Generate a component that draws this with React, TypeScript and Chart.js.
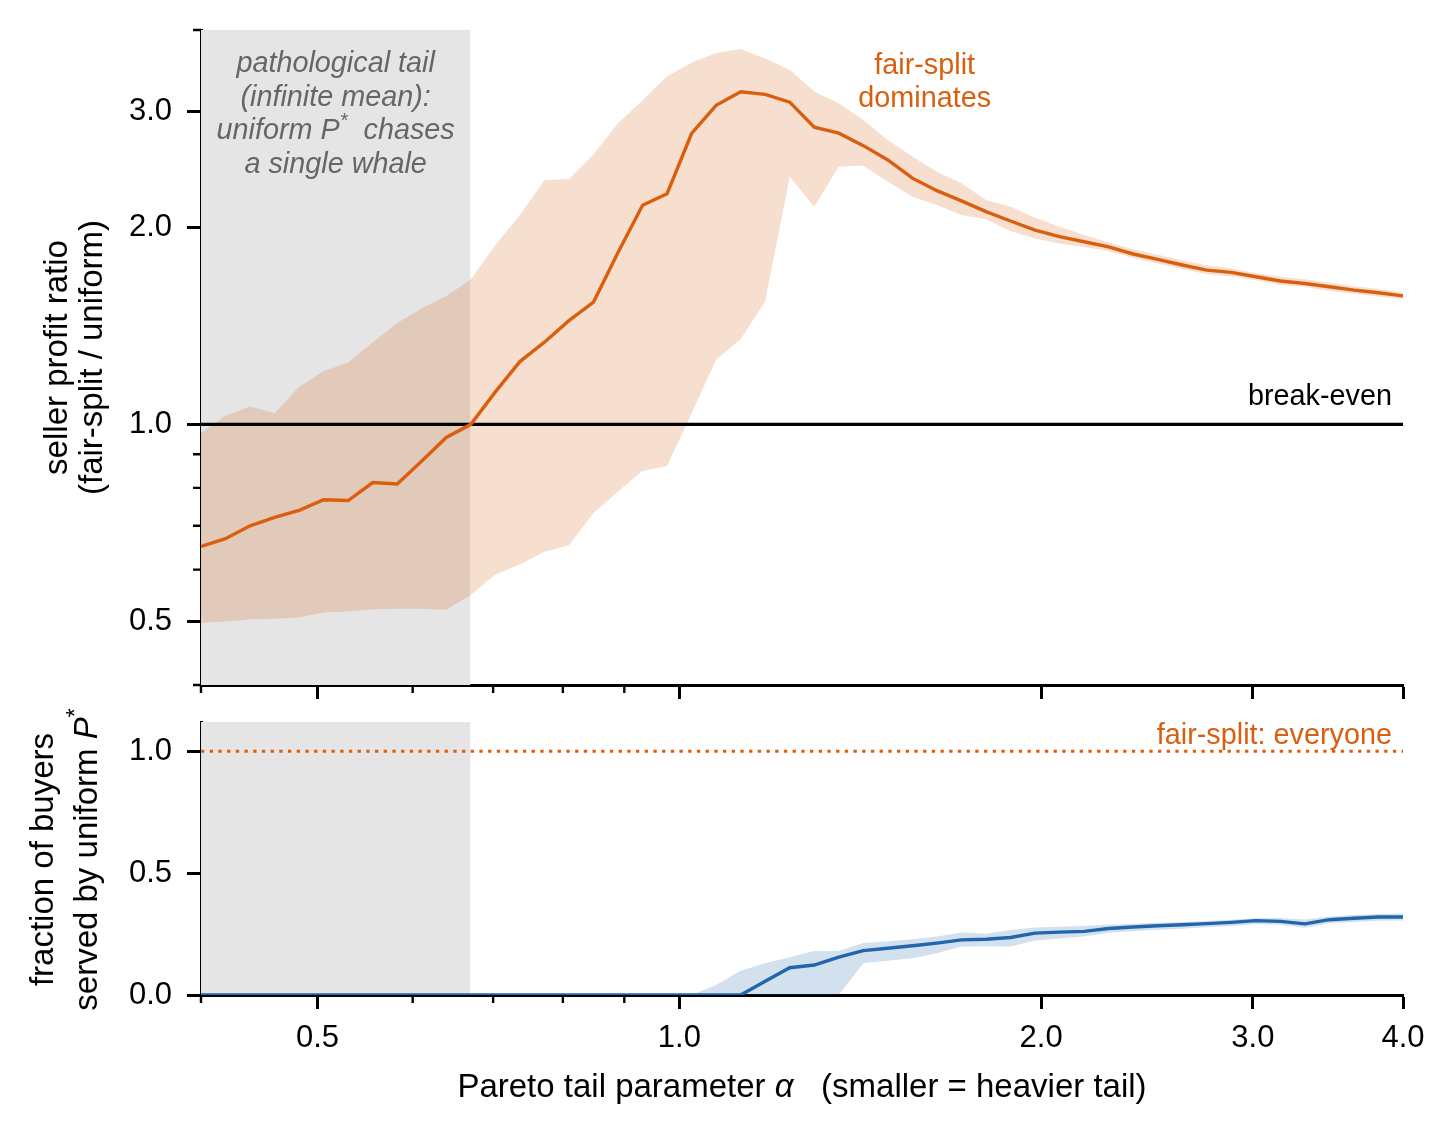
import React, { useEffect, useRef } from "react";
import { Chart, registerables } from "chart.js";

Chart.register(...registerables);

// ---------------- data ----------------
const ALPHA = [
  0.4, 0.4192, 0.4394, 0.4606, 0.4827, 0.5059, 0.5303, 0.5558, 0.5825, 0.6106,
  0.6399, 0.6707, 0.703, 0.7368, 0.7723, 0.8094, 0.8484, 0.8892, 0.932, 0.9768,
  1.0238, 1.0731, 1.1247, 1.1788, 1.2355, 1.295, 1.3573, 1.4226, 1.491, 1.5628,
  1.638, 1.7168, 1.7994, 1.8859, 1.9767, 2.0718, 2.1715, 2.2759, 2.3854, 2.5002,
  2.6205, 2.7466, 2.8787, 3.0172, 3.1624, 3.3146, 3.474, 3.6412, 3.8164, 4.0,
];

const RATIO_MEAN = [
  0.651, 0.669, 0.7, 0.721, 0.739, 0.767, 0.765, 0.815, 0.811, 0.879,
  0.955, 1.0, 1.121, 1.247, 1.335, 1.44, 1.537, 1.83, 2.16, 2.25,
  2.78, 3.07, 3.22, 3.19, 3.104, 2.842, 2.783, 2.664, 2.533, 2.376,
  2.274, 2.194, 2.112, 2.044, 1.98, 1.934, 1.9, 1.866, 1.82, 1.786,
  1.751, 1.72, 1.706, 1.68, 1.655, 1.641, 1.622, 1.603, 1.588, 1.571,
];

const RATIO_HI = [
  0.97, 1.031, 1.065, 1.04, 1.141, 1.205, 1.243, 1.335, 1.428, 1.504,
  1.57, 1.664, 1.878, 2.087, 2.359, 2.37, 2.584, 2.883, 3.125, 3.4,
  3.565, 3.69, 3.74, 3.62, 3.477, 3.222, 3.093, 2.916, 2.718, 2.563,
  2.431, 2.334, 2.2, 2.149, 2.068, 2.003, 1.945, 1.895, 1.85, 1.815,
  1.78, 1.75, 1.73, 1.703, 1.68, 1.665, 1.645, 1.625, 1.61, 1.59,
];

const RATIO_LO = [
  0.498, 0.5, 0.504, 0.505, 0.507, 0.516, 0.518, 0.522, 0.523, 0.523,
  0.521, 0.549, 0.59, 0.611, 0.639, 0.654, 0.732, 0.79, 0.849, 0.864,
  1.039, 1.256, 1.349, 1.542, 2.388, 2.149, 2.475, 2.483, 2.347, 2.226,
  2.162, 2.087, 2.056, 1.973, 1.922, 1.889, 1.865, 1.84, 1.795, 1.76,
  1.727, 1.695, 1.683, 1.66, 1.632, 1.62, 1.6, 1.582, 1.567, 1.552,
];

const SERVED_MEAN = [
  0, 0, 0, 0, 0, 0, 0, 0, 0, 0,
  0, 0, 0, 0, 0, 0, 0, 0, 0, 0,
  0, 0, 0, 0.056, 0.112, 0.123, 0.155, 0.182, 0.192, 0.202,
  0.213, 0.226, 0.229, 0.236, 0.254, 0.258, 0.261, 0.273, 0.279, 0.284,
  0.288, 0.293, 0.298, 0.305, 0.302, 0.292, 0.309, 0.315, 0.32, 0.32,
];

const SERVED_HI = [
  0, 0, 0, 0, 0, 0, 0, 0, 0, 0,
  0, 0, 0, 0, 0, 0, 0, 0, 0, 0,
  0, 0.041, 0.1, 0.13, 0.155, 0.181, 0.181, 0.213, 0.219, 0.229,
  0.24, 0.256, 0.251, 0.267, 0.277, 0.28, 0.283, 0.288, 0.292, 0.296,
  0.3, 0.304, 0.309, 0.315, 0.316, 0.31, 0.322, 0.328, 0.332, 0.334,
];

const SERVED_LO = [
  0, 0, 0, 0, 0, 0, 0, 0, 0, 0,
  0, 0, 0, 0, 0, 0, 0, 0, 0, 0,
  0, 0, 0, 0, 0, 0, 0, 0.13, 0.141, 0.151,
  0.171, 0.199, 0.2, 0.199, 0.224, 0.232, 0.24, 0.255, 0.262, 0.268,
  0.272, 0.278, 0.283, 0.29, 0.288, 0.276, 0.294, 0.3, 0.305, 0.306,
];

const X_MIN = 0.4;
const X_MAX = 4.0;
const X_TICKS = [0.5, 1, 2, 3, 4];
const X_MINOR = [0.4, 0.6, 0.7, 0.8, 0.9];
const Y_TOP_MIN = 0.4;
const Y_TOP_MAX = 4.0;
const Y_TOP_TICKS = [0.5, 1, 2, 3];
const Y_TOP_MINOR = [0.4, 0.6, 0.7, 0.8, 0.9, 4];
const Y_BOT_MIN = 0;
const Y_BOT_MAX = 1.12;
const Y_BOT_TICKS = [0, 0.5, 1];
const SHADE_END = 0.67;
const BREAK_EVEN = 1;
const FAIR_SPLIT_SERVED = 1;
const FAIR_SPLIT_LABEL_X = 1.6;

// ---------------- style ----------------
const FAMILY = "'Liberation Sans', Arial, sans-serif";
const ORANGE = "#d95f0e";
const ORANGE_BAND = "rgba(217,95,14,0.2)";
const BLUE = "#2166ac";
const BLUE_BAND = "rgba(33,102,172,0.2)";
const SHADE = "#e5e5e5";
const GREY_TEXT = "#666666";
const TICK_FONT = 31;
const LABEL_FONT = 33;
const ANNOT_FONT = 28.8;
const LINE_W = 3.4;

type Seg = { t: string; italic?: boolean; sup?: boolean };

function drawSegs(
  ctx: CanvasRenderingContext2D,
  segs: Seg[],
  x: number,
  y: number,
  align: "left" | "center" | "right",
  size: number,
  color: string,
  baseItalic = false
) {
  const fontFor = (s: Seg) =>
    `${s.italic || baseItalic ? "italic " : ""}${s.sup ? Math.round(size * 0.7) : size}px ${FAMILY}`;
  let total = 0;
  const widths = segs.map((s) => {
    ctx.font = fontFor(s);
    const w = ctx.measureText(s.t).width;
    total += w;
    return w;
  });
  let cx = align === "left" ? x : align === "center" ? x - total / 2 : x - total;
  ctx.fillStyle = color;
  ctx.textAlign = "left";
  ctx.textBaseline = "alphabetic";
  segs.forEach((s, i) => {
    ctx.font = fontFor(s);
    ctx.fillText(s.t, cx, s.sup ? y - size * 0.42 : y);
    cx += widths[i];
  });
}

const pts = (ys: number[]) => ALPHA.map((x, i) => ({ x, y: ys[i] }));

const shadePlugin = {
  id: "shade",
  beforeDatasetsDraw(chart: any) {
    const { ctx, chartArea } = chart;
    const xs = chart.scales.x;
    const x1 = xs.getPixelForValue(SHADE_END);
    ctx.save();
    ctx.fillStyle = SHADE;
    ctx.fillRect(chartArea.left, chartArea.top, x1 - chartArea.left, chartArea.bottom - chartArea.top);
    ctx.restore();
  },
};

function minorTicks(chart: any, yMinor: number[]) {
  const { ctx, chartArea } = chart;
  const xs = chart.scales.x;
  const ys = chart.scales.y;
  ctx.save();
  ctx.strokeStyle = "#000";
  ctx.lineWidth = 2.4;
  ctx.beginPath();
  X_MINOR.forEach((v) => {
    const px = xs.getPixelForValue(v);
    ctx.moveTo(px, chartArea.bottom);
    ctx.lineTo(px, chartArea.bottom + 8);
  });
  yMinor.forEach((v) => {
    const py = ys.getPixelForValue(v);
    ctx.moveTo(chartArea.left - 8, py);
    ctx.lineTo(chartArea.left, py);
  });
  ctx.stroke();
  ctx.restore();
}

const axisCommon = (size: number) => ({
  z: 1,
  grid: {
    display: true,
    drawOnChartArea: false,
    drawTicks: true,
    tickLength: 14,
    tickWidth: 3,
    tickColor: "#000",
  },
  border: { display: true, color: "#000", width: 3 },
  ticks: {
    font: { family: FAMILY, size },
    color: "#000",
    autoSkip: false,
    maxRotation: 0,
    minRotation: 0,
    callback: (v: any) => Number(v).toFixed(1),
  },
});

const fitX = (h: number) => (s: any) => {
  s.height = h;
  s.paddingLeft = 0;
  s.paddingRight = 0;
  s.paddingTop = 0;
  s.paddingBottom = 0;
};
const fitY = (w: number) => (s: any) => {
  s.width = w;
  s.paddingLeft = 0;
  s.paddingRight = 0;
  s.paddingTop = 0;
  s.paddingBottom = 0;
};

export default function App() {
  const topRef = useRef<HTMLCanvasElement | null>(null);
  const botRef = useRef<HTMLCanvasElement | null>(null);

  useEffect(() => {
    const topPlugin = {
      id: "topDecor",
      afterDraw(chart: any) {
        const { ctx, chartArea } = chart;
        const xs = chart.scales.x;
        const ys = chart.scales.y;
        minorTicks(chart, Y_TOP_MINOR);
        ctx.save();
        // shaded-region annotation
        const cx = xs.getPixelForValue(Math.sqrt(X_MIN * SHADE_END));
        const t = chartArea.top;
        drawSegs(ctx, [{ t: "pathological tail" }], cx, t + 42, "center", ANNOT_FONT, GREY_TEXT, true);
        drawSegs(ctx, [{ t: "(infinite mean):" }], cx, t + 75.5, "center", ANNOT_FONT, GREY_TEXT, true);
        drawSegs(
          ctx,
          [{ t: "uniform " }, { t: "P" }, { t: "*", sup: true }, { t: "  chases" }],
          cx,
          t + 109,
          "center",
          ANNOT_FONT,
          GREY_TEXT,
          true
        );
        drawSegs(ctx, [{ t: "a single whale" }], cx, t + 142.5, "center", ANNOT_FONT, GREY_TEXT, true);
        // fair-split dominates
        const fx = xs.getPixelForValue(FAIR_SPLIT_LABEL_X);
        drawSegs(ctx, [{ t: "fair-split" }], fx, t + 44, "center", ANNOT_FONT, ORANGE);
        drawSegs(ctx, [{ t: "dominates" }], fx, t + 77, "center", ANNOT_FONT, ORANGE);
        // break-even
        const by = ys.getPixelForValue(BREAK_EVEN);
        drawSegs(ctx, [{ t: "break-even" }], chartArea.right - 11, by - 19, "right", ANNOT_FONT, "#000");
        // y label
        const cy = (chartArea.top + chartArea.bottom) / 2;
        ctx.translate(67, cy);
        ctx.rotate(-Math.PI / 2);
        drawSegs(ctx, [{ t: "seller profit ratio" }], 0, 0, "center", LABEL_FONT, "#000");
        drawSegs(ctx, [{ t: "(fair-split / uniform)" }], 0, 35, "center", LABEL_FONT, "#000");
        ctx.restore();
      },
    };

    const botPlugin = {
      id: "botDecor",
      afterDraw(chart: any) {
        const { ctx, chartArea } = chart;
        const ys = chart.scales.y;
        minorTicks(chart, []);
        ctx.save();
        const ly = ys.getPixelForValue(FAIR_SPLIT_SERVED);
        drawSegs(ctx, [{ t: "fair-split: everyone" }], chartArea.right - 11, ly - 7, "right", ANNOT_FONT, ORANGE);
        // x label
        const mx = (chartArea.left + chartArea.right) / 2;
        drawSegs(
          ctx,
          [
            { t: "Pareto tail parameter " },
            { t: "\u03b1", italic: true },
            { t: "   (smaller = heavier tail)" },
          ],
          mx,
          chartArea.bottom + 101.5,
          "center",
          LABEL_FONT,
          "#000"
        );
        // y label
        const cy = (chartArea.top + chartArea.bottom) / 2 + 1;
        ctx.translate(53, cy);
        ctx.rotate(-Math.PI / 2);
        drawSegs(ctx, [{ t: "fraction of buyers" }], 0, 0, "center", LABEL_FONT, "#000");
        drawSegs(
          ctx,
          [{ t: "served by uniform " }, { t: "P", italic: true }, { t: "*", sup: true }],
          0,
          44,
          "center",
          LABEL_FONT,
          "#000"
        );
        ctx.restore();
      },
    };

    const top = new Chart(topRef.current as HTMLCanvasElement, {
      type: "line",
      data: {
        datasets: [
          { data: pts(RATIO_MEAN), borderColor: ORANGE, borderWidth: LINE_W, pointRadius: 0, fill: false, tension: 0 },
          {
            data: [
              { x: X_MIN, y: BREAK_EVEN },
              { x: X_MAX, y: BREAK_EVEN },
            ],
            borderColor: "#000",
            borderWidth: 3.2,
            pointRadius: 0,
            fill: false,
          },
          {
            data: pts(RATIO_HI),
            borderColor: "rgba(0,0,0,0)",
            borderWidth: 0,
            pointRadius: 0,
            fill: "+1",
            backgroundColor: ORANGE_BAND,
          },
          { data: pts(RATIO_LO), borderColor: "rgba(0,0,0,0)", borderWidth: 0, pointRadius: 0, fill: false },
        ],
      } as any,
      options: {
        responsive: false,
        animation: false,
        devicePixelRatio: 1,
        events: [],
        layout: { padding: { left: 0, right: 53, top: 30, bottom: 0 } },
        plugins: { legend: { display: false }, tooltip: { enabled: false } },
        scales: {
          x: {
            ...axisCommon(TICK_FONT),
            type: "logarithmic",
            position: "bottom",
            min: X_MIN,
            max: X_MAX,
            ticks: { ...axisCommon(TICK_FONT).ticks, display: false },
            afterBuildTicks: (s: any) => {
              s.ticks = X_TICKS.map((v) => ({ value: v }));
            },
            afterFit: fitX(15),
          },
          y: {
            ...axisCommon(TICK_FONT),
            type: "logarithmic",
            min: Y_TOP_MIN,
            max: Y_TOP_MAX,
            ticks: { ...axisCommon(TICK_FONT).ticks, padding: 15 },
            afterBuildTicks: (s: any) => {
              s.ticks = Y_TOP_TICKS.map((v) => ({ value: v }));
            },
            afterFit: fitY(201),
          },
        },
      } as any,
      plugins: [shadePlugin, topPlugin],
    });

    const bot = new Chart(botRef.current as HTMLCanvasElement, {
      type: "line",
      data: {
        datasets: [
          { data: pts(SERVED_MEAN), borderColor: BLUE, borderWidth: LINE_W, pointRadius: 0, fill: false, tension: 0 },
          {
            data: [
              { x: X_MIN, y: FAIR_SPLIT_SERVED },
              { x: X_MAX, y: FAIR_SPLIT_SERVED },
            ],
            borderColor: ORANGE,
            borderWidth: 3.2,
            borderDash: [3.3, 5.4],
            borderCapStyle: "butt",
            pointRadius: 0,
            fill: false,
          },
          {
            data: pts(SERVED_HI),
            borderColor: "rgba(0,0,0,0)",
            borderWidth: 0,
            pointRadius: 0,
            fill: "+1",
            backgroundColor: BLUE_BAND,
          },
          { data: pts(SERVED_LO), borderColor: "rgba(0,0,0,0)", borderWidth: 0, pointRadius: 0, fill: false },
        ],
      } as any,
      options: {
        responsive: false,
        animation: false,
        devicePixelRatio: 1,
        events: [],
        layout: { padding: { left: 0, right: 53, top: 22, bottom: 0 } },
        plugins: { legend: { display: false }, tooltip: { enabled: false } },
        scales: {
          x: {
            ...axisCommon(TICK_FONT),
            type: "logarithmic",
            position: "bottom",
            min: X_MIN,
            max: X_MAX,
            ticks: { ...axisCommon(TICK_FONT).ticks, padding: 11 },
            afterBuildTicks: (s: any) => {
              s.ticks = X_TICKS.map((v) => ({ value: v }));
            },
            afterFit: fitX(142),
          },
          y: {
            ...axisCommon(TICK_FONT),
            type: "linear",
            min: Y_BOT_MIN,
            max: Y_BOT_MAX,
            ticks: { ...axisCommon(TICK_FONT).ticks, padding: 15 },
            afterBuildTicks: (s: any) => {
              s.ticks = Y_BOT_TICKS.map((v) => ({ value: v }));
            },
            afterFit: fitY(201),
          },
        },
      } as any,
      plugins: [shadePlugin, botPlugin],
    });

    return () => {
      top.destroy();
      bot.destroy();
    };
  }, []);

  return (
    <div
      style={{
        position: "absolute",
        left: 0,
        top: 0,
        width: 1456,
        height: 1137,
        background: "#fff",
        overflow: "hidden",
      }}
    >
      <canvas
        ref={topRef}
        width={1456}
        height={700}
        style={{ position: "absolute", left: 0, top: 0, width: 1456, height: 700 }}
      />
      <canvas
        ref={botRef}
        width={1456}
        height={437}
        style={{ position: "absolute", left: 0, top: 700, width: 1456, height: 437 }}
      />
    </div>
  );
}
